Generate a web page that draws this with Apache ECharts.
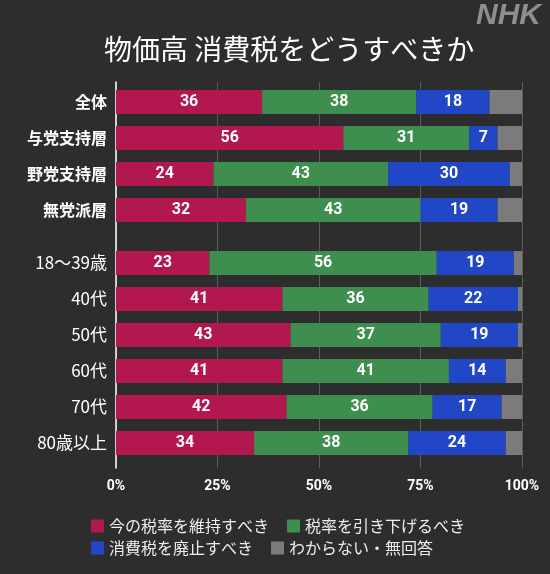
<!DOCTYPE html>
<html>
<head>
<meta charset="utf-8">
<script src="https://cdn.jsdelivr.net/npm/echarts@6/dist/echarts.min.js"></script>
<style>
  html, body { margin: 0; padding: 0; background: #2d2d2d; }
  #chart { width: 550px; height: 574px; }
</style>
</head>
<body>
<div id="chart"></div>
<script>
  // rows: 4 支持層 groups, then 6 age groups
  const categories = ["全体", "与党支持層", "野党支持層", "無党派層", "18～39歳", "40代", "50代", "60代", "70代", "80歳以上"];
  const splitAt = 4;

  const answerNames = ["今の税率を維持すべき", "税率を引き下げるべき", "消費税を廃止すべき", "わからない・無回答"];
  const keepRate = [36, 56, 24, 32, 23, 41, 43, 41, 42, 34];
  const lowerRate = [38, 31, 43, 43, 56, 36, 37, 41, 36, 38];
  const abolish = [18, 7, 30, 19, 19, 22, 19, 14, 17, 24];
  const unknown = [8, 6, 3, 6, 2, 1, 1, 4, 5, 4];

  const xTicks = [0, 25, 50, 75, 100];

  const colors = ["#b3174f", "#3e8f4f", "#2247c6", "#7b7b7b"];
  const fontJP = '"Noto Sans CJK JP", "Noto Sans", sans-serif';

  const chart = echarts.init(document.getElementById("chart"));
  const seriesValues = [keepRate, lowerRate, abolish, unknown];

  const series = [];
  [0, 1].forEach((g) => {
    seriesValues.forEach((vals, i) => {
      const data = g === 0 ? vals.slice(0, splitAt) : vals.slice(splitAt);
      series.push({
        name: answerNames[i],
        type: "bar",
        stack: "g" + g,
        xAxisIndex: g + 1,
        yAxisIndex: g + 1,
        barWidth: 24,
        data: data,
        itemStyle: { color: colors[i] },
        label: {
          show: i < 3,
          position: "inside",
          color: "#fff",
          fontSize: 16,
          fontWeight: "bold",
          fontFamily: "Roboto, " + fontJP,
        },
      });
    });
  });

  const hiddenX = (idx) => ({
    type: "value", gridIndex: idx, min: 0, max: 100,
    show: false,
  });
  const catY = (idx, data, size, weight) => ({
    type: "category", gridIndex: idx, data: data, inverse: true,
    axisLine: { show: false }, axisTick: { show: false },
    axisLabel: {
      color: "#fff", fontSize: size, fontWeight: weight, margin: 9,
      fontFamily: fontJP,
    },
  });

  chart.setOption({
    backgroundColor: "#2d2d2d",
    animation: false,
    title: {
      text: "物価高 消費税をどうすべきか",
      left: 99,
      top: 30,
      textStyle: { color: "#fff", fontSize: 28, fontWeight: "normal", fontFamily: fontJP },
    },
    graphic: [{
      type: "text",
      right: 9,
      top: 1,
      style: {
        text: "NHK",
        fill: "#8e8e8e",
        font: 'italic bold 30px "Liberation Sans", Arial, sans-serif',
      },
    }],
    legend: [
      {
        data: answerNames.slice(0, 2),
        left: 86, top: 513,
        itemWidth: 13, itemHeight: 13, itemGap: 18,
        icon: "rect",
        textStyle: { color: "#eee", fontSize: 16, fontFamily: fontJP },
      },
      {
        data: answerNames.slice(2),
        left: 86, top: 535,
        itemWidth: 13, itemHeight: 13, itemGap: 18,
        icon: "rect",
        textStyle: { color: "#eee", fontSize: 16, fontFamily: fontJP },
      },
    ],
    grid: [
      { left: 116, right: 28, top: 82, height: 386 },
      { left: 116, right: 28, top: 84, height: 144 },
      { left: 116, right: 28, top: 245, height: 216 },
    ],
    xAxis: [
      {
        type: "value", gridIndex: 0, min: xTicks[0], max: xTicks[xTicks.length - 1], interval: 25,
        axisLine: { show: false }, axisTick: { show: false },
        splitLine: { show: true, lineStyle: { color: "#5c5c5c", width: 1 } },
        axisLabel: {
          color: "#fff", fontSize: 14, fontWeight: "bold", margin: 12,
          fontFamily: "Roboto, " + fontJP,
          formatter: "{value}%",
        },
      },
      hiddenX(1),
      hiddenX(2),
    ],
    yAxis: [
      {
        type: "value", gridIndex: 0, min: 0, max: 1,
        axisLine: { show: true, lineStyle: { color: "#fff", width: 1.5 } },
        axisTick: { show: false }, axisLabel: { show: false }, splitLine: { show: false },
      },
      catY(1, categories.slice(0, splitAt), 16, "bold"),
      catY(2, categories.slice(splitAt), 17, "normal"),
    ],
    series: series,
  });
</script>
</body>
</html>
